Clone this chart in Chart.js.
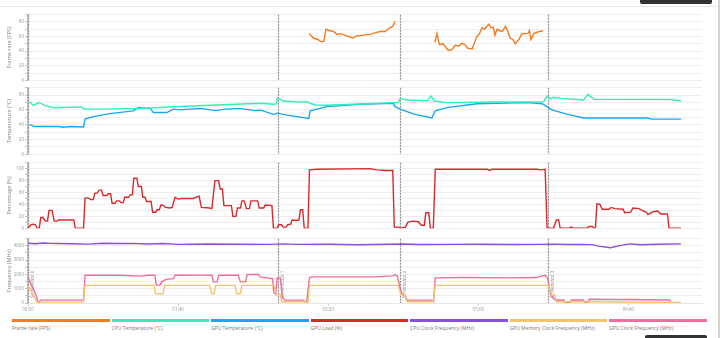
<!DOCTYPE html>
<html>
<head>
<meta charset="utf-8">
<script src="https://cdn.jsdelivr.net/npm/chart.js@4.4.1/dist/chart.umd.min.js"></script>
<style>
  html, body { margin: 0; padding: 0; background: #fff; }
  body { width: 720px; height: 338px; position: relative; overflow: hidden; font-family: 'Open Sans', sans-serif; }
  canvas { position: absolute; left: 0; }
  #topLine { position: absolute; left: 0; top: 6px; width: 717px; height: 1px; background: #e8e8e8; }
  #btnTop { position: absolute; left: 640px; top: 0; width: 72px; height: 4px; background: #333; border-radius: 0 0 2px 2px; }
  #btnBottom { position: absolute; left: 645px; top: 335px; width: 62px; height: 4px; background: #333; border-radius: 2px 2px 0 0; }
  #edge { position: absolute; left: 718px; top: 0; width: 2px; height: 338px; background: #dcd4cb; }
  #legend { position: absolute; left: 12px; top: 319px; display: flex; gap: 2px; }
  .item { width: 97.5px; }
  .bar { height: 2.5px; }
  .lab { font-size: 5px; line-height: 6px; color: #777; margin-top: 3.5px; white-space: nowrap; }
</style>
</head>
<body>
<div id="topLine"></div>
<div id="btnTop"></div>
<div id="edge"></div>
<canvas id="fpsChart" width="720" height="73" style="top:10.5px"></canvas>
<canvas id="tempChart" width="720" height="74" style="top:83.5px"></canvas>
<canvas id="pctChart" width="720" height="73" style="top:158.5px"></canvas>
<canvas id="freqChart" width="720" height="80" style="top:235px"></canvas>
<div id="legend"></div>
<div id="btnBottom"></div>
<script>
// frame rate, two capture windows (null breaks the line)
const fpsTime = [187.5, 190, 193, 195, 197, 198.5, 201, 203.5, 206, 208, 211, 216, 219, 223.5, 228, 231, 234.5, 238, 241, 243, 244.5,
  258,
  271, 272.5, 274, 276.5, 280, 282.5, 284.5, 287, 289, 291, 293, 296, 297, 299, 300.5, 302.5, 304, 307, 308.5, 310,
  311, 312.5, 314.5, 316, 318, 319.5, 321, 323, 324.5, 327, 329, 331, 333, 334, 335, 337, 339, 343];
const fpsValues = [64, 58, 56, 53, 53, 70, 68, 67, 63, 64, 62, 58, 61, 62, 63, 65, 67, 67, 72, 74, 81,
  null,
  52, 64, 49, 50, 41, 42, 48, 47, 51, 49, 44, 43, 49, 60, 63, 72, 70, 77, 72, 73,
  62, 70, 68, 67, 74, 68, 58, 56, 50, 56, 64, 64, 64, 68, 56, 64, 66, 68];

const cpuTempTime = [1, 3.5, 7.5, 11, 17, 35, 38, 48, 75, 101, 130, 155, 163.5, 165.3, 166.2, 170, 177, 186, 191, 199,
  221, 243.5, 246.7, 248, 252.5, 266, 268.5, 270.7, 279, 310, 343.5, 345.8, 348, 350, 355, 370, 373, 377, 428, 435];
const cpuTempValues = [71, 66, 70, 66, 63, 64, 61, 61, 62, 64.5, 67, 69, 67.6, 68, 76, 72, 71, 70.7, 66.7, 66.3,
  68, 69.8, 70, 75.6, 73.3, 72.4, 78.7, 72, 69.8, 70.7, 71, 78.7, 75, 77, 75.6, 73.3, 81, 74.2, 74, 72];

const gpuTempTime = [1, 4.5, 21, 23, 28, 37, 38, 43.5, 54.5, 70, 73.5, 81.5, 83.5, 92.5, 97, 101, 115, 125, 131, 141,
  151, 155, 163.5, 166, 172.5, 187, 188, 199, 221, 243.5, 244.5, 248, 257, 269, 271.3, 279, 299, 332.5, 342.5, 345.8,
  349, 359, 370, 412.5, 415.5, 435];
const gpuTempValues = [40, 37.5, 37.5, 36.5, 37.5, 37, 47.6, 51, 55, 58.7, 63, 62, 56.4, 56.4, 61, 60, 62, 59, 61, 62,
  59, 59.6, 54, 55.6, 53, 48.4, 58.7, 64.4, 67.6, 69, 64.4, 61, 54.2, 49, 58.7, 63.1, 68.4, 69.8, 68.4, 64.4,
  60, 54.2, 49, 49, 47.6, 47.6];

const gpuLoadTime = [
  0, 2, 3.5, 5, 6, 7.5, 8.5, 10, 11.5, 13,
  14, 16, 17.5, 19.5, 20.5, 30.5, 31.5, 37, 38, 40,
  42, 43.5, 44.5, 46, 47.5, 49, 50, 52.5, 53.5, 55,
  56, 58, 59, 61, 62, 63.5, 64.5, 67, 68, 69.5,
  70.5, 72.5, 73.5, 75.5, 76.5, 78, 79, 82, 83, 85,
  86, 87.5, 88.5, 90.5, 91.5, 94.5, 96, 98, 100, 102.5,
  110, 114, 115.5, 121, 122.5, 124.5, 127, 128, 129.5, 130.5,
  135.5, 136.5, 138.5, 139.5, 141.5, 142.5, 144, 145.5, 147.5, 148.5,
  153, 154, 157, 158, 162.5, 163.5, 166, 167, 169, 170,
  172, 173, 175, 176, 179, 180.5, 181.5, 183, 184, 186.5,
  187.5, 192.5, 228, 232.5, 238, 243, 244, 247, 248, 251.5,
  253, 256, 260, 262, 264, 265, 267, 268, 270, 271.3,
  306, 307.5, 309, 339, 341.5, 344.5, 345.8, 350, 352, 353.5,
  354.5, 360, 362, 363.5, 372.5, 373.5, 376, 377, 378, 379,
  381, 382.5, 387, 388.5, 391, 396.5, 397.5, 401.5, 403, 407,
  410, 412, 413, 415, 416.5, 419.5, 421.5, 426, 427, 435];
const gpuLoadValues = [
  0, 6, 7, 6, 0, 0, 18, 18, 12, 12,
  30, 30, 12, 12, 14, 14, 0, 0, 51, 51,
  48, 48, 59, 59, 64, 64, 55, 55, 58, 58,
  42, 42, 46, 46, 43, 43, 52, 52, 56, 56,
  84, 84, 70, 70, 52, 52, 45, 45, 27, 27,
  31, 31, 39, 38, 35, 34, 35, 52, 49, 50,
  50, 54, 35, 34, 33, 80, 80, 66, 66, 38,
  38, 20, 20, 34, 34, 46, 46, 33, 33, 46,
  46, 34, 34, 39, 38, 0, 0, 6, 6, 2,
  2, 6, 7, 14, 13, 14, 31, 31, 0, 0,
  98, 99, 100, 98, 97, 97, 2, 2, 0, 2,
  10, 12, 11, 5, 5, 26, 26, 0, 0, 99,
  99, 97, 99, 99, 98, 99, 0, 0, 14, 14,
  0, 0, 2, 0, 0, 3, 3, 0, 0, 41,
  40, 32, 32, 35, 33, 32, 26, 27, 34, 33,
  29, 27, 23, 26, 28, 29, 24, 24, 0, 0];

const cpuClockTime = [0, 5, 10, 15, 20, 30, 40, 50, 60, 70, 80, 90, 100, 120, 140, 160, 170, 180, 200, 220,
  240, 250, 260, 280, 300, 320, 340, 350, 360, 370, 377, 380, 388, 395, 401, 408, 420, 435];
const cpuClockValues = [4180, 4150, 4200, 4170, 4160, 4150, 4120, 4180, 4160, 4170, 4130, 4160, 4100, 4130, 4110, 4100, 4140, 4100, 4110, 4080,
  4110, 4130, 4090, 4100, 4110, 4090, 4100, 4120, 4090, 4100, 4070, 3980, 3870, 4030, 4140, 4080, 4110, 4140];

const gpuMemTime = [0, 3, 6, 37, 38, 84, 85, 90, 91, 121, 122.5, 124, 125, 138, 139, 141.5, 142.5, 164, 165, 168,
  169, 185.5, 186.5, 187.5, 246.5, 248.5, 251, 252.5, 270, 271.3, 346.5, 348, 349, 351, 352, 372, 435];
const gpuMemValues = [1230, 650, 60, 60, 1230, 1230, 650, 650, 1230, 1230, 650, 650, 1230, 1230, 650, 650, 1230, 1230, 600, 600,
  90, 90, 20, 1230, 1230, 550, 550, 90, 90, 1230, 1230, 780, 550, 550, 90, 90, 30];

const gpuClockTime = [0, 2, 4, 5.5, 7, 8.5, 37, 38, 60, 75, 80, 84.5, 85.5, 88, 89, 92, 97, 98, 101, 104.5,
  115, 122.5, 123.5, 126, 127, 140, 141.5, 145, 146, 153.5, 154.7, 159, 163, 163.7, 165, 166, 168, 169.5, 171, 183.5,
  185.5, 187.5, 189, 230, 243, 244.5, 246, 248, 249, 251.5, 252.5, 269, 270.2, 271.3, 290, 320, 339, 342.5, 344.7, 346.2,
  348, 349.8, 351.3, 356.9, 358, 361, 362, 369.8, 371, 373, 373.8, 427.3, 428.5, 435];
const gpuClockValues = [1830, 1300, 900, 500, 0, 200, 200, 1940, 1940, 1880, 1940, 1940, 1250, 1250, 1480, 1650, 1700, 1960, 1940, 1940,
  1950, 1940, 1480, 1480, 1940, 1940, 1480, 1480, 1990, 1990, 1830, 1760, 1700, 700, 600, 1760, 1760, 370, 200, 200,
  0, 1760, 1830, 1830, 1900, 1990, 1900, 1020, 700, 440, 200, 200, 100, 1760, 1780, 1760, 1780, 1900, 1940, 1700,
  670, 330, 210, 210, 20, 20, 210, 210, 20, 20, 260, 210, 20, 20];

const markerTimes = [0, 166.5, 247.5, 346.5];
const markerLabels = ['Screenshot 0', 'Screenshot 1', 'Screenshot 2', 'Screenshot 3'];

const seriesNames = ['Frame rate (FPS)', 'CPU Temperature (°C)', 'GPU Temperature (°C)', 'GPU Load (%)',
  'CPU Clock Frequency (MHz)', 'GPU Memory Clock Frequency (MHz)', 'GPU Clock Frequency (MHz)'];
const seriesColors = ['#f47b20', '#30efb9', '#1ba6f0', '#d82a2c', '#8b50d9', '#f0c56e', '#ee6ea0'];

const timeMax = 449;

const pts = (ts, vs) => ts.map((t, i) => ({ x: t, y: vs[i] }));
const mmss = v => String(Math.floor(v / 60)).padStart(2, '0') + ':' + String(v % 60).padStart(2, '0');

// dashed marker lines (and their rotated labels on the bottom panel)
const markerPlugin = {
    id: 'markerLines',
    beforeDatasetsDraw(chart, args, opts) {
        const { ctx, chartArea: { top, bottom }, scales: { x } } = chart;
        ctx.save();
        markerTimes.forEach((t, i) => {
            const px = Math.round(x.getPixelForValue(t)) + 0.5;
            ctx.strokeStyle = '#8f8f8f';
            ctx.lineWidth = 1.2;
            ctx.setLineDash([2, 1]);
            ctx.beginPath();
            ctx.moveTo(px, top);
            ctx.lineTo(px, bottom);
            ctx.stroke();
            if (opts.labels) {
                ctx.save();
                ctx.translate(px + 4, bottom - 5);
                ctx.rotate(-Math.PI / 2);
                ctx.font = "4.5px 'Open Sans'";
                ctx.fillStyle = '#8a8a8a';
                ctx.textBaseline = 'middle';
                ctx.fillText(markerLabels[i], 0, 0);
                ctx.restore();
            }
        });
        ctx.restore();
    }
};

function makePanel(id, datasets, yMax, yStep, labelStep, title, bottom) {
    const xAxis = {
        type: 'linear',
        min: 0,
        max: timeMax,
        display: bottom,
        border: { color: '#e6e6e6' },
        grid: { drawOnChartArea: false, tickLength: 3, tickColor: '#cfcfcf' },
        ticks: {
            stepSize: 100,
            includeBounds: false,
            maxRotation: 0,
            padding: 1,
            color: '#999',
            font: { size: 4.5, family: "'Open Sans'" },
            callback: v => mmss(v)
        },
        afterFit: s => { s.height = bottom ? 12 : 0; }
    };
    return new Chart(document.getElementById(id), {
        type: 'line',
        data: { datasets },
        plugins: [markerPlugin],
        options: {
            responsive: false,
            animation: false,
            layout: { padding: { left: 0, right: 18, top: 0, bottom: 0 } },
            elements: { point: { radius: 0 }, line: { borderWidth: 1.4, tension: 0 } },
            plugins: {
                legend: { display: false },
                tooltip: { enabled: false },
                markerLines: { labels: bottom }
            },
            scales: {
                x: xAxis,
                y: {
                    min: 0,
                    max: yMax,
                    border: { color: '#c2c2c2', width: 1.5 },
                    grid: { color: '#eeeeee', tickLength: 3, tickColor: '#c4c4c4' },
                    ticks: {
                        stepSize: yStep,
                        autoSkip: false,
                        padding: 1,
                        color: '#999',
                        font: { size: 4.5, family: "'Open Sans'" },
                        callback: v => (v % labelStep === 0 ? String(v) : '')
                    },
                    title: {
                        display: true,
                        text: title,
                        color: '#888',
                        padding: { top: 6, bottom: 0 },
                        font: { size: 5.5, family: "'Open Sans'" }
                    },
                    afterFit: s => { s.width = 28; }
                }
            }
        }
    });
}

const line = (idx, ts, vs) => ({
    label: seriesNames[idx],
    data: pts(ts, vs),
    borderColor: seriesColors[idx],
    backgroundColor: seriesColors[idx],
    spanGaps: false
});

makePanel('fpsChart', [line(0, fpsTime, fpsValues)], 90, 10, 20, 'Frame rate (FPS)', false);
makePanel('tempChart', [line(1, cpuTempTime, cpuTempValues), line(2, gpuTempTime, gpuTempValues)], 90, 10, 20, 'Temperature (°C)', false);
makePanel('pctChart', [line(3, gpuLoadTime, gpuLoadValues)], 110, 10, 20, 'Percentage (%)', false);
makePanel('freqChart', [
    line(4, cpuClockTime, cpuClockValues),
    line(5, gpuMemTime, gpuMemValues),
    line(6, gpuClockTime, gpuClockValues)
], 4500, 500, 1000, 'Frequency (MHz)', true);

// legend: coloured bar over each label
const legend = document.getElementById('legend');
seriesNames.forEach((name, i) => {
    const item = document.createElement('div');
    item.className = 'item';
    item.innerHTML = '<div class="bar" style="background:' + seriesColors[i] + '"></div><div class="lab">' + name + '</div>';
    legend.appendChild(item);
});
</script>
</body>
</html>
